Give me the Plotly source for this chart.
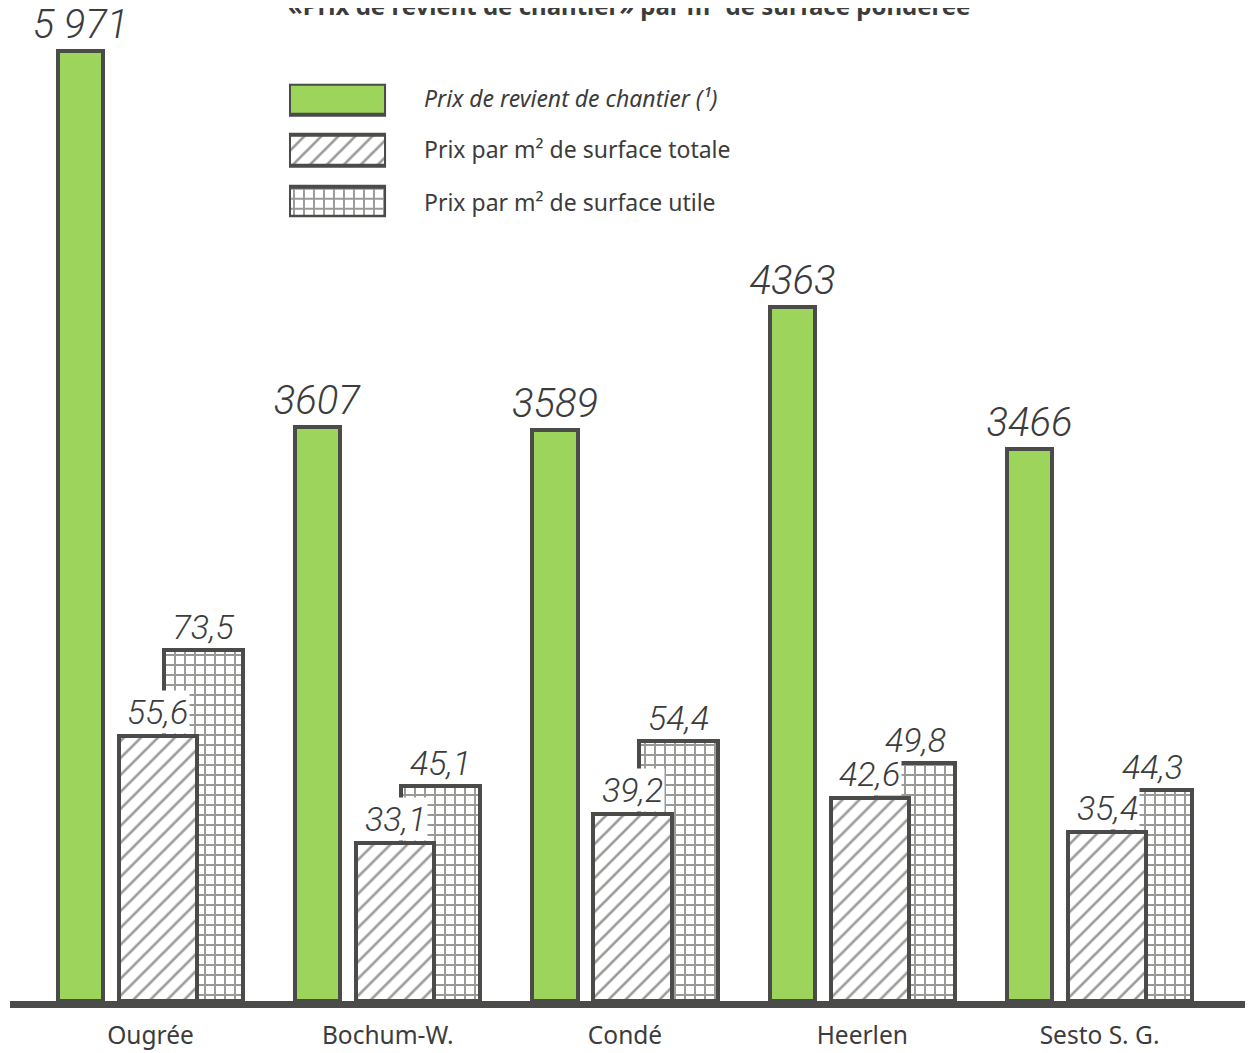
import plotly.graph_objects as go
import numpy as np

# ---- data ----
categories = ["Ougrée", "Bochum-W.", "Condé", "Heerlen", "Sesto S. G."]
prix_revient = [5971, 3607, 3589, 4363, 3466]
prix_revient_labels = ["5 971", "3607", "3589", "4363", "3466"]
prix_m2_totale = [55.6, 33.1, 39.2, 42.6, 35.4]
prix_m2_utile = [73.5, 45.1, 54.4, 49.8, 44.3]
legend_names = ["<i>Prix de revient de chantier (¹)</i>",
                "Prix par m² de surface totale",
                "Prix par m² de surface utile"]
title_text = "«Prix de revient de chantier» par m² de surface pondérée"

# ---- styles ----
GREEN = "#9dd55c"
DARK = "#4b4b49"
PAT = "#333331"
TXT = "#3c3c3c"
SCALE_RATIO = 30.0          # green axis units per small-axis unit
Y1_MAX = 6165.0
Y2_MAX = Y1_MAX / SCALE_RATIO

GREEN_OFF, GREEN_W = -0.390, 0.190
HATCH_OFF, HATCH_W = -0.133, 0.329
GRID_OFF, GRID_W = 0.057, 0.333

x = np.arange(len(categories))
num_font = dict(family="Roboto", size=40, color=TXT, style="italic", weight=300)
small_font = dict(family="Roboto", size=34, color=TXT, style="italic", weight=300)
hatch_pat = dict(shape="/", fgcolor=PAT, bgcolor="white", size=12, solidity=0.22)
grid_pat = dict(shape="+", fgcolor=PAT, bgcolor="white", size=10, solidity=0.35)

fig = go.Figure()

fig.add_trace(go.Bar(
    x=x, y=prix_revient, yaxis="y", offset=GREEN_OFF, width=GREEN_W,
    marker=dict(color=GREEN, line=dict(color=DARK, width=4)),
    text=prix_revient_labels, textposition="outside", textfont=num_font,
    constraintext="none", cliponaxis=False, showlegend=False, hoverinfo="skip"))

fig.add_trace(go.Bar(
    x=x, y=prix_m2_utile, yaxis="y2", offset=GRID_OFF, width=GRID_W,
    marker=dict(color="white", line=dict(color=DARK, width=4), pattern=grid_pat),
    text=[f"{v:.1f}".replace(".", ",") for v in prix_m2_utile],
    textposition="outside", textfont=small_font,
    constraintext="none", cliponaxis=False, showlegend=False, hoverinfo="skip"))

fig.add_trace(go.Bar(
    x=x, y=prix_m2_totale, yaxis="y2", offset=HATCH_OFF, width=HATCH_W,
    marker=dict(color="white", line=dict(color=DARK, width=4), pattern=hatch_pat),
    cliponaxis=False, showlegend=False, hoverinfo="skip"))

# labels of hatched bars with white background (mask the grid behind)
for i, v in enumerate(prix_m2_totale):
    fig.add_annotation(x=i + HATCH_OFF + HATCH_W / 2, y=v, xref="x", yref="y2",
                       text=f"{v:.1f}".replace(".", ","), showarrow=False,
                       xanchor="center", yanchor="bottom", yshift=2,
                       bgcolor="white", borderpad=1, font=small_font)

# ---- legend swatches drawn on a small auxiliary axis ----
leg_specs = [
    dict(color=GREEN, pattern=None),
    dict(color="white", pattern=hatch_pat),
    dict(color="white", pattern=grid_pat),
]
for k, spec in enumerate(leg_specs):
    mk = dict(color=spec["color"], line=dict(color=DARK, width=4))
    if spec["pattern"]:
        mk["pattern"] = spec["pattern"]
    fig.add_trace(go.Bar(y=[k], x=[1], base=0, orientation="h", width=0.6,
                         xaxis="x3", yaxis="y3", marker=mk, cliponaxis=False,
                         showlegend=False, hoverinfo="skip"))

leg_y = [0.9203, 0.868, 0.8147]
for k, name in enumerate(legend_names):
    fig.add_annotation(x=0.3336, y=leg_y[k], xref="paper", yref="paper",
                       text=name, showarrow=False, xanchor="left", yanchor="middle",
                       font=dict(family="Noto Sans", size=23, color=TXT))

# title (cut at the top edge, as in the reference)
fig.add_annotation(x=0.501, y=1.0152, xref="paper", yref="paper", text=f"<b>{title_text}</b>",
                   showarrow=False, xanchor="center", yanchor="middle",
                   font=dict(family="Noto Sans", size=24, color=TXT))

# the page body adds an 8px margin: figure is sized/offset to compensate
fig.update_layout(
    width=1247, height=1045,
    margin=dict(l=2, r=10, t=12, b=48),
    paper_bgcolor="white", plot_bgcolor="white",
    barmode="overlay", bargap=0,
    showlegend=False,
    xaxis=dict(range=[-0.592, 4.613], tickmode="array", tickvals=x, ticktext=categories,
               showline=True, linewidth=7, linecolor=DARK, ticks="", showgrid=False,
               zeroline=False, tickfont=dict(family="Noto Sans", size=24.5, color=TXT),
               ticklabelstandoff=7, fixedrange=True),
    yaxis=dict(range=[0, Y1_MAX], visible=False, showgrid=False, zeroline=False),
    yaxis2=dict(range=[0, Y2_MAX], overlaying="y", visible=False, showgrid=False, zeroline=False),
    xaxis3=dict(domain=[0.2259, 0.3045], range=[0, 1], visible=False, anchor="y3"),
    yaxis3=dict(domain=[0.7990, 0.9350], range=[2.30, -0.30], visible=False, anchor="x3"),
)

fig.write_html("out.html")
